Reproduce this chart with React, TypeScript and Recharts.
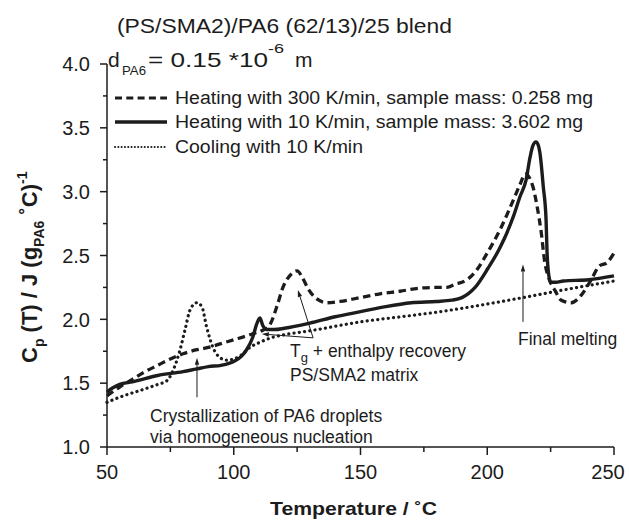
import { LineChart, Line, XAxis, YAxis } from "recharts";

// Heating with 300 K/min, sample mass 0.258 mg (dashed)
const fastT = [50, 55, 60, 65, 70, 75, 80, 85, 90, 95, 100, 105, 108, 111, 114.3, 117, 119.4, 123, 125, 127, 129.3, 132.8, 136.8, 141.9, 149.8, 157.7, 165.6, 173.5, 180, 184, 188, 190, 195.2, 200.3, 205, 210.2, 213, 215, 218, 219.7, 221.3, 222.6, 224.5, 226.6, 229.2, 233.2, 237.1, 241, 244.3, 247, 250];
const fastCp = [1.4, 1.47, 1.53, 1.59, 1.64, 1.69, 1.73, 1.76, 1.78, 1.81, 1.84, 1.87, 1.89, 1.91, 1.96, 2.1, 2.25, 2.36, 2.38, 2.33, 2.24, 2.16, 2.13, 2.14, 2.17, 2.2, 2.22, 2.245, 2.25, 2.25, 2.28, 2.29, 2.37, 2.53, 2.7, 2.93, 3.06, 3.14, 3.04, 2.88, 2.68, 2.46, 2.31, 2.23, 2.15, 2.13, 2.19, 2.31, 2.42, 2.44, 2.52];

// Heating with 10 K/min, sample mass 3.602 mg (solid)
const slowT = [50, 52, 55, 60, 70, 80, 85, 90, 95, 100, 103, 105, 107.5, 109, 110.3, 111.5, 113, 116, 120, 130, 140, 150, 160, 170, 180, 186, 190, 195.2, 200.3, 205, 210.2, 212.9, 215.3, 216.9, 218, 219.2, 220.2, 220.8, 222.1, 223.2, 223.6, 224.4, 225.1, 227, 230, 240, 250];
const slowCp = [1.43, 1.46, 1.49, 1.51, 1.56, 1.59, 1.61, 1.63, 1.64, 1.67, 1.71, 1.76, 1.86, 1.96, 2.01, 1.95, 1.92, 1.92, 1.93, 1.97, 2.02, 2.06, 2.1, 2.13, 2.14, 2.15, 2.17, 2.25, 2.4, 2.56, 2.8, 2.96, 3.09, 3.27, 3.36, 3.39, 3.36, 3.3, 3.04, 2.78, 2.52, 2.33, 2.29, 2.29, 2.3, 2.31, 2.34];

// Cooling with 10 K/min (dotted)
const coolT = [50, 55, 64.2, 70, 73.7, 75.6, 78.8, 80.8, 82.7, 85.4, 87.4, 89.3, 91.8, 94.6, 97.3, 100, 103, 106.4, 110.3, 115.5, 120, 130, 150, 170, 181.4, 200, 214, 230, 250];
const coolCp = [1.35, 1.39, 1.45, 1.49, 1.52, 1.58, 1.76, 1.92, 2.07, 2.13, 2.1, 1.94, 1.78, 1.7, 1.68, 1.69, 1.72, 1.78, 1.82, 1.86, 1.88, 1.91, 1.98, 2.03, 2.06, 2.12, 2.17, 2.23, 2.3];

const xTicks = [50, 75, 100, 125, 150, 175, 200, 225, 250];
const yTicks = [1, 1.25, 1.5, 1.75, 2, 2.25, 2.5, 2.75, 3, 3.25, 3.5, 3.75, 4];

const legendLabels = [
  "Heating with 300 K/min, sample mass: 0.258 mg",
  "Heating with 10 K/min, sample mass: 3.602 mg",
  "Cooling with 10 K/min",
];

const zip = (ts: number[], cs: number[]) => ts.map((t, i) => ({ t, cp: cs[i] }));

const W = 629;
const H = 520;
const PLOT = { left: 107, right: 614, top: 64, bottom: 447 };
const FONT = '"Liberation Sans", Arial, Helvetica, sans-serif';
const INK = "#1c1c1c";

// map data coords to pixels (annotation arrows only)
const px = (t: number) => PLOT.left + ((t - 50) / 200) * (PLOT.right - PLOT.left);
const py = (c: number) => PLOT.bottom - ((c - 1) / 3) * (PLOT.bottom - PLOT.top);

const XTick = ({ x, y, payload }: any) => {
  const major = payload.value % 50 === 0;
  // last label sits a little left of its tick, as in the original
  const shift = payload.value === 250 ? -6 : 0;
  return (
    <g>
      <line x1={x} x2={x} y1={y} y2={y + (major ? 8 : 5)} stroke={INK} strokeWidth={1.5} />
      {major && (
        <text x={x + shift} y={y + 32} textAnchor="middle" fontSize={20} fontFamily={FONT} fill={INK}>
          {payload.value}
        </text>
      )}
    </g>
  );
};

const YTick = ({ x, y, payload }: any) => {
  const major = Math.abs((payload.value * 2) % 1) < 1e-6;
  return (
    <g>
      <line x1={x - (major ? 7 : 4)} x2={x} y1={y} y2={y} stroke={INK} strokeWidth={1.5} />
      {major && (
        <text x={x - 17} y={y} dy="0.36em" textAnchor="end" fontSize={20} fontFamily={FONT} fill={INK}>
          {payload.value.toFixed(1)}
        </text>
      )}
    </g>
  );
};

function Arrow({ x1, y1, x2, y2 }: { x1: number; y1: number; x2: number; y2: number }) {
  const ang = Math.atan2(y2 - y1, x2 - x1);
  const len = 7;
  const half = 2.2;
  const bx = x2 - len * Math.cos(ang);
  const by = y2 - len * Math.sin(ang);
  const p1 = `${bx + half * Math.sin(ang)},${by - half * Math.cos(ang)}`;
  const p2 = `${bx - half * Math.sin(ang)},${by + half * Math.cos(ang)}`;
  return (
    <g>
      <line x1={x1} y1={y1} x2={bx} y2={by} stroke={INK} strokeWidth={1} />
      <polygon points={`${x2},${y2} ${p1} ${p2}`} fill={INK} />
    </g>
  );
}

export default function App() {
  const legendY = [98, 122, 147];
  const legendLen = [418, 408, 188];
  const legendDash = ["7 4.3", undefined, "0.1 3.2"];
  const legendWidth = [3, 3.5, 2];
  const tgApex = { x: px(131.3), y: py(1.855) };
  return (
    <div style={{ position: "absolute", left: 0, top: 0, width: W, height: H, background: "#fff" }}>
      <LineChart
        width={W}
        height={H}
        margin={{ top: PLOT.top, right: W - PLOT.right, bottom: H - PLOT.bottom - 30, left: PLOT.left - 60 }}
      >
        <XAxis
          type="number"
          dataKey="t"
          domain={[50, 250]}
          ticks={xTicks}
          interval={0}
          tickSize={0}
          tickMargin={0}
          tickLine={false}
          tick={<XTick />}
          axisLine={{ stroke: INK, strokeWidth: 1.5 }}
          height={30}
          allowDuplicatedCategory={false}
        />
        <YAxis
          type="number"
          dataKey="cp"
          domain={[1, 4]}
          ticks={yTicks}
          interval={0}
          tickSize={0}
          tickMargin={0}
          tickLine={false}
          tick={<YTick />}
          axisLine={{ stroke: INK, strokeWidth: 1.5 }}
          width={60}
        />
        <Line
          data={zip(coolT, coolCp)}
          dataKey="cp"
          type="monotone"
          stroke={INK}
          strokeWidth={3.2}
          strokeDasharray="0.1 5.2"
          strokeLinecap="round"
          dot={false}
          isAnimationActive={false}
        />
        <Line
          data={zip(fastT, fastCp)}
          dataKey="cp"
          type="monotone"
          stroke={INK}
          strokeWidth={3.3}
          strokeDasharray="7.5 4.5"
          dot={false}
          isAnimationActive={false}
        />
        <Line
          data={zip(slowT, slowCp)}
          dataKey="cp"
          type="monotone"
          stroke={INK}
          strokeWidth={3.4}
          dot={false}
          isAnimationActive={false}
        />
      </LineChart>

      <svg
        width={W}
        height={H}
        style={{ position: "absolute", left: 0, top: 0, pointerEvents: "none" }}
        fontFamily={FONT}
        fill={INK}
      >
        <text x={117} y={33} fontSize={21} textLength={335} lengthAdjust="spacingAndGlyphs">
          (PS/SMA2)/PA6 (62/13)/25 blend
        </text>

        <text x={108} y={67} fontSize={21}>d</text>
        <text x={122} y={75} fontSize={13.5} textLength={24} lengthAdjust="spacingAndGlyphs">PA6</text>
        <text x={148} y={67} fontSize={21} textLength={120} lengthAdjust="spacingAndGlyphs">= 0.15 *10</text>
        <text x={268} y={53} fontSize={13.5} textLength={16} lengthAdjust="spacingAndGlyphs">-6</text>
        <text x={295} y={67} fontSize={21}>m</text>

        {legendLabels.map((label, i) => (
          <g key={label}>
            <line
              x1={115}
              x2={167}
              y1={legendY[i]}
              y2={legendY[i]}
              stroke={INK}
              strokeWidth={legendWidth[i]}
              strokeDasharray={legendDash[i]}
              strokeLinecap={i === 2 ? "round" : "butt"}
            />
            <text
              x={175}
              y={legendY[i] + 5.5}
              fontSize={18}
              textLength={legendLen[i]}
              lengthAdjust="spacingAndGlyphs"
            >
              {label}
            </text>
          </g>
        ))}

        {/* y axis title */}
        <text transform="translate(37, 363) rotate(-90)" fontSize={22} fontWeight="bold">
          C<tspan fontSize={14} dy={7}>p</tspan>
          <tspan dy={-7}> (T) / J (g</tspan>
          <tspan fontSize={14} dy={7}>PA6</tspan>
          <tspan dy={-7}> ˚C)</tspan>
          <tspan fontSize={14} dy={-10}>-1</tspan>
        </text>

        {/* x axis title */}
        <text x={270} y={515} fontSize={18.5} fontWeight="bold" textLength={167} lengthAdjust="spacingAndGlyphs">
          Temperature / ˚C
        </text>

        {/* annotations */}
        <Arrow x1={px(85.5)} y1={py(1.39)} x2={px(85.5)} y2={py(1.7)} />
        <text x={150} y={422} fontSize={17.5}>Crystallization of PA6 droplets</text>
        <text x={150} y={443} fontSize={17.5}>via homogeneous nucleation</text>

        <Arrow x1={tgApex.x} y1={tgApex.y} x2={px(125.3)} y2={py(2.23)} />
        <Arrow x1={tgApex.x} y1={tgApex.y} x2={px(111.1)} y2={py(1.885)} />
        <text x={290} y={357} fontSize={17.5}>
          T<tspan fontSize={13} dy={5}>g</tspan>
          <tspan dy={-5}> + enthalpy recovery</tspan>
        </text>
        <text x={290} y={381} fontSize={17.5}>PS/SMA2 matrix</text>

        <Arrow x1={px(214.1)} y1={py(1.98)} x2={px(214.1)} y2={py(2.43)} />
        <text x={518} y={345} fontSize={17.5}>Final melting</text>
      </svg>
    </div>
  );
}
